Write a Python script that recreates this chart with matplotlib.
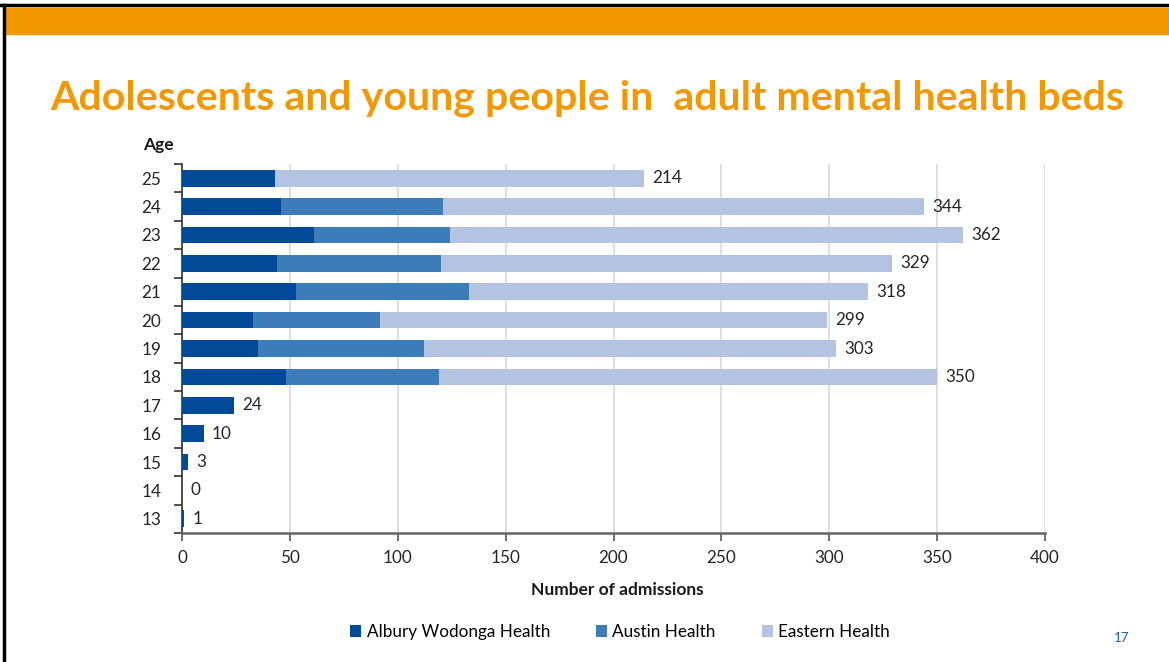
import numpy as np
import matplotlib.pyplot as plt
from matplotlib.lines import Line2D
from matplotlib.patches import Rectangle

plt.rcParams['font.family'] = ['Lato', 'DejaVu Sans']

ages = ['13', '14', '15', '16', '17', '18', '19', '20', '21', '22', '23', '24', '25']
albury = np.array([1, 0, 3, 10, 24, 48, 35, 33, 53, 44, 61, 46, 43])
austin = np.array([0, 0, 0, 0, 0, 71, 77, 59, 80, 76, 63, 75, 0])
eastern = np.array([0, 0, 0, 0, 0, 231, 191, 207, 185, 209, 238, 223, 171])
totals = albury + austin + eastern

c_alb = '#004A98'
c_aus = '#3C7DB9'
c_eas = '#B3C3E1'
orange = '#F39800'

W, H = 1169, 662
fig = plt.figure(figsize=(W / 100, H / 100), dpi=100)

# slide frame and orange band
fig.patches.append(Rectangle((5 / W, 1 - 34 / H), 1, 26 / H, transform=fig.transFigure,
                             color=orange, zorder=0))
fig.add_artist(Line2D([0, 1], [1 - 5 / H, 1 - 5 / H], color='black', lw=2.5))
fig.add_artist(Line2D([4 / W, 4 / W], [0, 1 - 5 / H], color='black', lw=2.5))

fig.text(50 / W, 1 - 98 / H, 'Adolescents and young people in  adult mental health beds',
         color=orange, fontsize=29.6, fontweight='bold', va='center', ha='left')

ax = fig.add_axes([182 / W, 1 - 533 / H, (1045 - 182) / W, (533 - 164) / H])
y = np.arange(len(ages))
h = 0.59
ax.barh(y, albury, h, color=c_alb, label='Albury Wodonga Health', zorder=3)
ax.barh(y, austin, h, left=albury, color=c_aus, label='Austin Health', zorder=3)
ax.barh(y, eastern, h, left=albury + austin, color=c_eas, label='Eastern Health', zorder=3)

for yi, t in zip(y, totals):
    ax.annotate(str(t), (t, yi), xytext=(6, 0), textcoords='offset points',
                va='center', ha='left', fontsize=12.3, color='#262626')

ax.set_xlim(0, 400)
ax.set_ylim(-0.5, len(ages) - 0.5)
ax.set_xticks(np.arange(0, 401, 50))
ax.set_yticks(y)
ax.set_yticklabels(ages)
ax.set_yticks(np.arange(-0.5, len(ages), 1), minor=True)
ax.tick_params(axis='y', which='major', length=0, pad=15, labelsize=12.3, labelcolor='#262626')
ax.tick_params(axis='y', which='minor', length=6, width=1.2, color='#333333')
ax.tick_params(axis='x', length=6, width=1.2, color='#555555', pad=6, labelsize=12.3,
               labelcolor='#262626')
ax.grid(axis='x', color='#D9D9D9', lw=1.2, zorder=0)
for s in ['top', 'right']:
    ax.spines[s].set_visible(False)
ax.spines['left'].set_color('#333333')
ax.spines['left'].set_linewidth(1.2)
ax.spines['bottom'].set_color('#666666')
ax.spines['bottom'].set_linewidth(1.8)

fig.text(143 / W, 1 - 145 / H, 'Age', fontsize=12.5, fontweight='bold', ha='left', va='center',
         color='#1a1a1a')
fig.text(617 / W, 1 - 590 / H, 'Number of admissions', fontsize=12.5, fontweight='bold',
         ha='center', va='center', color='#1a1a1a')

fig.legend(loc='center', bbox_to_anchor=(620 / W, 1 - 632 / H), ncol=3, frameon=False,
           fontsize=12.3, handlelength=0.65, handleheight=0.65, handletextpad=0.3,
           columnspacing=2.7)

fig.text(1122 / W, 1 - 638 / H, '17', fontsize=9.5, color='#1F5FB0', ha='center', va='center')

fig.savefig('out.png', dpi=100)
